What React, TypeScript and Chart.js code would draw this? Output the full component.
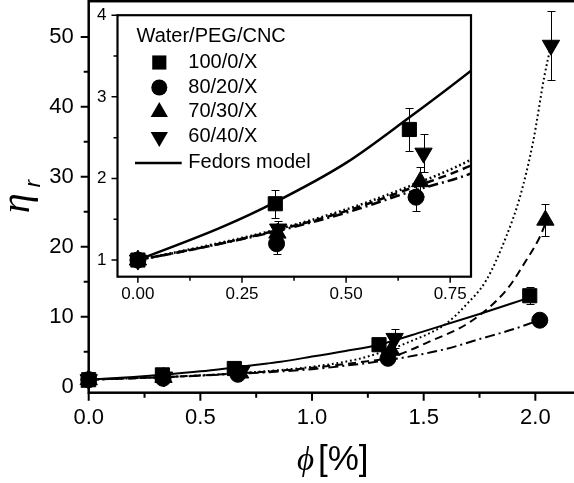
import React, { useEffect, useRef } from "react";
import { Chart, registerables } from "chart.js";

Chart.register(...registerables);

// ---- measured data (phi in %, relative viscosity eta_r, error) ----
const phi100 = [0, 0.33, 0.652, 1.3, 1.975];
const eta100 = [1, 1.69, 2.6, 6.0, 13.0];
const err100 = [0.05, 0.17, 0.26, 0.5, 1.2];

const phi80 = [0, 0.333, 0.668, 1.34, 2.02];
const eta80 = [1, 1.2, 1.77, 4.05, 9.5];
const err80 = [0.05, 0.12, 0.17, 0.4, 0.5];

const phi70 = [0, 0.335, 0.678, 1.355, 2.045];
const eta70 = [1, 1.33, 1.96, 5.2, 23.8];
const err70 = [0.05, 0.1, 0.18, 0.6, 2.3];

const phi60 = [0, 0.337, 0.686, 1.37, 2.07];
const eta60 = [1, 1.38, 2.31, 6.9, 48.8];
const err60 = [0.05, 0.1, 0.23, 1.3, 4.9];

// ---- Fedors model curves ----
const fit100X = [0, 0.2, 0.33, 0.5, 0.65, 0.8, 0.86, 1.0, 1.15, 1.3, 1.5, 1.75, 1.97];
const fit100Y = [1, 1.4, 1.71, 2.19, 2.74, 3.32, 3.57, 4.3, 5.1, 6.0, 7.9, 10.4, 12.7];

const fit80X = [0, 0.17, 0.33, 0.5, 0.65, 0.8, 1.0, 1.15, 1.39, 1.6, 1.75, 1.9, 1.99];
const fit80Y = [1, 1.17, 1.35, 1.58, 1.83, 2.06, 2.5, 3.0, 4.05, 5.4, 6.8, 8.2, 9.2];

const fit70X = [0, 0.17, 0.33, 0.5, 0.65, 0.8, 1.0, 1.2, 1.35, 1.53, 1.71, 1.87, 1.96, 2.02, 2.045];
const fit70Y = [1, 1.17, 1.36, 1.6, 1.87, 2.16, 2.7, 3.45, 4.2, 6.5, 9.3, 13.8, 18.1, 21.4, 23.3];

const fit60X = [0, 0.17, 0.33, 0.5, 0.65, 0.8, 1.0, 1.2, 1.3, 1.42, 1.6, 1.69, 1.78, 1.87, 1.93, 1.99, 2.04, 2.07];
const fit60Y = [1, 1.18, 1.37, 1.62, 1.9, 2.23, 2.85, 3.9, 4.8, 6.2, 9.0, 11.7, 15.2, 21.5, 27, 35, 44.3, 48.8];

// ---- ticks ----
const mainXTicks = [0, 0.5, 1.0, 1.5, 2.0];
const mainXMinor = [0.25, 0.75, 1.25, 1.75];
const mainYTicks = [0, 10, 20, 30, 40, 50];
const mainYMinor = [5, 15, 25, 35, 45];
const insetXTicks = [0, 0.25, 0.5, 0.75];
const insetXMinor = [0.125, 0.375, 0.625];
const insetYTicks = [1, 2, 3, 4];
const insetYMinor = [1.5, 2.5, 3.5];

const legendTitle = "Water/PEG/CNC";
const seriesNames = ["100/0/X", "80/20/X", "70/30/X", "60/40/X"];
const modelName = "Fedors model";

const SANS = '"Liberation Sans", Arial, sans-serif';

// vertical offsets (screen px) of the two canvases, set after measuring the layout
const offsets = { main: 0, inset: 0 };

const pts = (xs: number[], ys: number[]) => xs.map((x, i) => ({ x, y: ys[i] }));

const markerSets = [
  { x: phi100, y: eta100, e: err100, style: "rect", r: 10, rot: 0 },
  { x: phi80, y: eta80, e: err80, style: "circle", r: 8, rot: 0 },
  { x: phi70, y: eta70, e: err70, style: "triangle", r: 10, rot: 0 },
  { x: phi60, y: eta60, e: err60, style: "triangle", r: 10, rot: 180 },
];

const curveSets = [
  { x: fit100X, y: fit100Y, dash: [] as number[] },
  { x: fit80X, y: fit80Y, dash: [10, 4, 2, 4] },
  { x: fit70X, y: fit70Y, dash: [8, 5] },
  { x: fit60X, y: fit60Y, dash: [1.8, 2.8] },
];

function buildDatasets(lineWidth: number, clipMarkers: boolean) {
  const markers = markerSets.map((m) => ({
    data: pts(m.x, m.y),
    showLine: false,
    pointStyle: m.style,
    pointRadius: m.r,
    pointRotation: m.rot,
    pointBackgroundColor: "#000",
    pointBorderColor: "#000",
    pointBorderWidth: 1,
    clip: clipMarkers ? undefined : false,
  }));
  const curves = curveSets.map((c) => ({
    data: pts(c.x, c.y),
    showLine: true,
    pointRadius: 0,
    borderColor: "#000",
    borderWidth: lineWidth,
    borderDash: c.dash,
    cubicInterpolationMode: "monotone",
    fill: false,
  }));
  return [...markers, ...curves];
}

function framePlugin(cfg: any) {
  return {
    id: "frame",
    beforeDatasetsDraw(chart: any) {
      const { ctx, chartArea: a, scales } = chart;
      ctx.save();
      ctx.strokeStyle = "#000";
      ctx.lineWidth = cfg.frameWidth;
      ctx.strokeRect(a.left, a.top, a.right - a.left, a.bottom - a.top);
      ctx.lineWidth = cfg.tickWidth;
      ctx.beginPath();
      const xt = (vals: number[], len: number) =>
        vals.forEach((v) => {
          const p = scales.x.getPixelForValue(v);
          ctx.moveTo(p, a.bottom);
          ctx.lineTo(p, a.bottom + len);
        });
      const yt = (vals: number[], len: number) =>
        vals.forEach((v) => {
          const p = scales.y.getPixelForValue(v);
          ctx.moveTo(a.left, p);
          ctx.lineTo(a.left - len, p);
        });
      xt(cfg.xMajor, cfg.major);
      xt(cfg.xMinor, cfg.minor);
      yt(cfg.yMajor, cfg.major);
      yt(cfg.yMinor, cfg.minor);
      ctx.stroke();
      ctx.restore();
    },
  };
}

function errorPlugin(clip: boolean) {
  return {
    id: "errors",
    afterDatasetsDraw(chart: any) {
      const { ctx, chartArea: a, scales } = chart;
      ctx.save();
      if (clip) {
        ctx.beginPath();
        ctx.rect(a.left, a.top, a.right - a.left, a.bottom - a.top);
        ctx.clip();
      }
      ctx.strokeStyle = "#000";
      ctx.lineWidth = 1;
      ctx.beginPath();
      markerSets.forEach((s) =>
        s.x.forEach((xv, i) => {
          const px = Math.round(scales.x.getPixelForValue(xv)) + 0.5;
          const top = Math.round(scales.y.getPixelForValue(s.y[i] + s.e[i])) + 0.5;
          const bot = Math.round(scales.y.getPixelForValue(s.y[i] - s.e[i])) + 0.5;
          ctx.moveTo(px, top);
          ctx.lineTo(px, bot);
          ctx.moveTo(px - 4, top);
          ctx.lineTo(px + 4, top);
          ctx.moveTo(px - 4, bot);
          ctx.lineTo(px + 4, bot);
        })
      );
      ctx.stroke();
      ctx.restore();
    },
  };
}

const titlesPlugin = {
  id: "titles",
  afterDraw(chart: any) {
    const ctx = chart.ctx;
    ctx.save();
    ctx.translate(0, -offsets.main);
    ctx.fillStyle = "#000";
    ctx.textBaseline = "alphabetic";
    ctx.textAlign = "left";
    ctx.font = 'italic 33px "Liberation Serif", "DejaVu Serif", serif';
    ctx.fillText("\u03D5", 297, 470);
    ctx.font = "35px " + SANS;
    ctx.fillText("[%]", 318, 470);
    ctx.rotate(-Math.PI / 2);
    ctx.font = 'italic 40px "Liberation Serif", "DejaVu Serif", serif';
    ctx.fillText("\u03B7", -213, 29);
    ctx.font = "italic 22px " + SANS;
    ctx.fillText("r", -187, 40);
    ctx.restore();
  },
};

function drawShape(ctx: CanvasRenderingContext2D, kind: string, x: number, y: number, r: number, rot: number) {
  ctx.beginPath();
  if (kind === "rect") {
    const s = r * Math.SQRT1_2;
    ctx.rect(x - s, y - s, 2 * s, 2 * s);
  } else if (kind === "circle") {
    ctx.arc(x, y, r, 0, Math.PI * 2);
  } else {
    let rad = (rot * Math.PI) / 180;
    for (let k = 0; k < 3; k++) {
      const px = x + Math.sin(rad) * r;
      const py = y - Math.cos(rad) * r;
      if (k === 0) ctx.moveTo(px, py);
      else ctx.lineTo(px, py);
      rad += (2 * Math.PI) / 3;
    }
    ctx.closePath();
  }
  ctx.fill();
}

const legendPlugin = {
  id: "insetLegend",
  afterDraw(chart: any) {
    const ctx = chart.ctx;
    ctx.save();
    ctx.translate(0, -offsets.inset);
    ctx.fillStyle = "#000";
    ctx.strokeStyle = "#000";
    ctx.font = "20px " + SANS;
    ctx.textBaseline = "middle";
    ctx.textAlign = "left";
    ctx.fillText(legendTitle, 76.5, 36);
    const rows = [62.3, 87.3, 111.7, 136.7];
    markerSets.forEach((m, i) => {
      drawShape(ctx, m.style, 99.3, rows[i], m.r, m.rot);
      ctx.fillText(seriesNames[i], 128.3, rows[i]);
    });
    ctx.lineWidth = 2.5;
    ctx.beginPath();
    ctx.moveTo(75, 162.7);
    ctx.lineTo(121.7, 162.7);
    ctx.stroke();
    ctx.fillText(modelName, 128.3, 162.7);
    ctx.restore();
  },
};

function makeMain(canvas: HTMLCanvasElement) {
  return new Chart(canvas, {
    type: "scatter",
    data: { datasets: buildDatasets(2, false) as any },
    options: {
      responsive: false,
      animation: false,
      layout: { autoPadding: false, padding: { left: 0, top: 0, right: 20, bottom: 0 } },
      plugins: { legend: { display: false }, tooltip: { enabled: false } },
      scales: {
        x: {
          type: "linear",
          min: 0,
          max: 2.2,
          grid: { display: false, drawTicks: false },
          border: { display: false },
          afterBuildTicks: (s: any) => {
            s.ticks = mainXTicks.map((v) => ({ value: v }));
          },
          afterFit: (s: any) => {
            s.height = 90.3;
          },
          ticks: {
            color: "#000",
            font: { family: SANS, size: 22 },
            padding: 12,
            autoSkip: false,
            maxRotation: 0,
            callback: (v: any) => Number(v).toFixed(1),
          },
        },
        y: {
          type: "linear",
          min: -0.86,
          max: 55.1,
          grid: { display: false, drawTicks: false },
          border: { display: false },
          afterBuildTicks: (s: any) => {
            s.ticks = mainYTicks.map((v) => ({ value: v }));
          },
          afterFit: (s: any) => {
            s.width = 88.7;
          },
          ticks: {
            color: "#000",
            font: { family: SANS, size: 22 },
            padding: 15,
            callback: (v: any) => String(Math.round(Number(v))),
          },
        },
      },
    } as any,
    plugins: [
      framePlugin({
        frameWidth: 2.5,
        tickWidth: 2,
        major: 8,
        minor: 5,
        xMajor: mainXTicks,
        xMinor: mainXMinor,
        yMajor: mainYTicks,
        yMinor: mainYMinor,
      }),
      errorPlugin(false),
      titlesPlugin,
    ],
  });
}

function makeInset(canvas: HTMLCanvasElement) {
  return new Chart(canvas, {
    type: "scatter",
    data: { datasets: buildDatasets(2.5, true) as any },
    options: {
      responsive: false,
      animation: false,
      layout: { autoPadding: false, padding: { left: 0, top: 0, right: 19, bottom: 0 } },
      plugins: { legend: { display: false }, tooltip: { enabled: false } },
      scales: {
        x: {
          type: "linear",
          min: -0.049,
          max: 0.8,
          grid: { display: false, drawTicks: false },
          border: { display: false },
          afterBuildTicks: (s: any) => {
            s.ticks = insetXTicks.map((v) => ({ value: v }));
          },
          afterFit: (s: any) => {
            s.height = 43.3;
          },
          ticks: {
            color: "#000",
            font: { family: SANS, size: 17 },
            padding: 7,
            autoSkip: false,
            maxRotation: 0,
            callback: (v: any) => Number(v).toFixed(2),
          },
        },
        y: {
          type: "linear",
          min: 0.796,
          max: 4.0,
          grid: { display: false, drawTicks: false },
          border: { display: false },
          afterBuildTicks: (s: any) => {
            s.ticks = insetYTicks.map((v) => ({ value: v }));
          },
          afterFit: (s: any) => {
            s.width = 57.5;
          },
          ticks: {
            color: "#000",
            font: { family: SANS, size: 17 },
            padding: 11,
            callback: (v: any) => String(Math.round(Number(v))),
          },
        },
      },
    } as any,
    plugins: [
      framePlugin({
        frameWidth: 2.2,
        tickWidth: 1.5,
        major: 6,
        minor: 4,
        xMajor: insetXTicks,
        xMinor: insetXMinor,
        yMajor: insetYTicks,
        yMinor: insetYMinor,
      }),
      errorPlugin(true),
      legendPlugin,
    ],
  });
}

// Measure where Chart.js puts the plot area, then size and shift the canvas so that
// the plot area spans screen rows [top, bottom].
function place(
  canvas: HTMLCanvasElement,
  make: (c: HTMLCanvasElement) => any,
  top: number,
  bottom: number,
  xAxisHeight: number,
  key: "main" | "inset"
) {
  const probe = make(canvas);
  const t0 = probe.chartArea.top;
  probe.destroy();
  let o = top - t0;
  const h = Math.round(bottom + xAxisHeight - o);
  canvas.setAttribute("height", String(h));
  canvas.height = h;
  canvas.style.top = o + "px";
  offsets[key] = o;
  const chart = make(canvas);
  const t1 = chart.chartArea.top;
  if (Math.abs(t1 - t0) > 0.01) {
    o = top - t1;
    canvas.style.top = o + "px";
    offsets[key] = o;
    chart.update();
  }
  return chart;
}

export default function App() {
  const mainRef = useRef<HTMLCanvasElement>(null);
  const insetRef = useRef<HTMLCanvasElement>(null);

  useEffect(() => {
    const mainCanvas = mainRef.current as HTMLCanvasElement;
    const insetCanvas = insetRef.current as HTMLCanvasElement;
    const main = place(mainCanvas, makeMain, 1, 392.7, 90.3, "main");
    const inset = place(insetCanvas, makeInset, 15, 276.7, 43.3, "inset");
    return () => {
      main.destroy();
      inset.destroy();
    };
  }, []);

  return (
    <div
      style={{
        position: "fixed",
        left: 0,
        top: 0,
        width: 574,
        height: 483,
        overflow: "hidden",
        background: "#fff",
      }}
    >
      <canvas ref={mainRef} width={600} height={483} style={{ position: "absolute", left: 0, top: 0 }} />
      <canvas ref={insetRef} width={430} height={320} style={{ position: "absolute", left: 60, top: 0 }} />
    </div>
  );
}
